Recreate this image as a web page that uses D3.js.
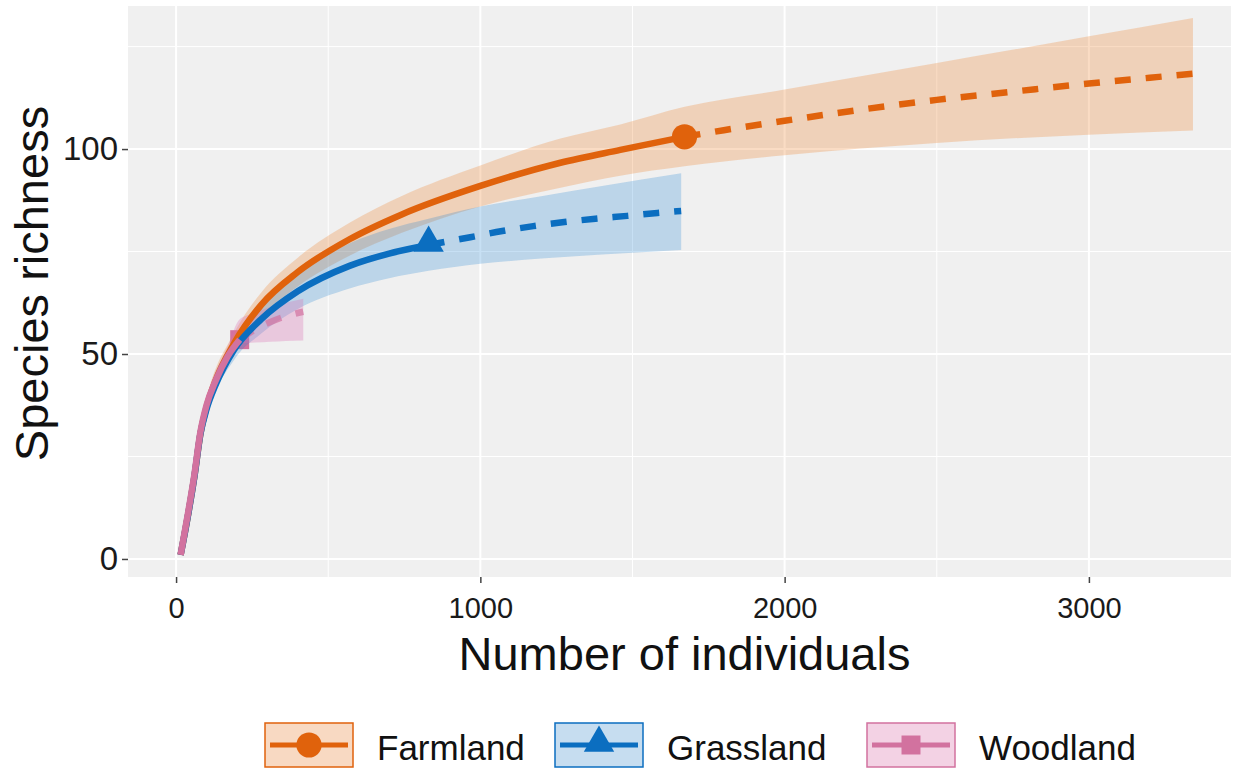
<!DOCTYPE html>
<html><head><meta charset="utf-8">
<script src="https://cdn.jsdelivr.net/npm/d3@7"></script>
<style>body{margin:0;background:#fff;} text{font-family:"Liberation Sans",Arial,sans-serif;}</style>
</head><body><svg id="c" width="1238" height="769"></svg>
<script>
const groups = ["Farmland", "Grassland", "Woodland"];
const colors = ["#E0620C", "#0B6EC0", "#D2729F"];
const bandFill = ["rgba(240,140,60,0.30)", "rgba(30,130,210,0.25)", "rgba(220,110,180,0.30)"];
const shapes = ["circle", "triangle", "square"];

// observed sample (size, richness)
const observedN = [1671, 830, 209];
const observedS = [103, 76.6, 53.5];

// rarefaction (interpolated) curves
const farmInterpN = [15, 40, 60, 80, 100, 130, 190, 280, 400, 570, 740, 1000, 1260, 1460, 1671];
const farmInterpS = [1, 11, 20, 30.5, 37, 43.5, 52.5, 62, 70, 78, 84, 91, 96.6, 99.8, 103];
const grassInterpN = [15, 40, 60, 80, 100, 130, 190, 280, 400, 570, 700, 830];
const grassInterpS = [1, 11, 20, 30.5, 36.5, 42.5, 51, 58.5, 65.3, 71.5, 74.5, 76.6];
const woodInterpN = [15, 40, 60, 80, 100, 130, 170, 209];
const woodInterpS = [1, 11.5, 20.5, 31, 37.5, 43.5, 49.5, 53.5];

// extrapolated curves
const farmExtrapN = [1671, 1800, 2000, 2250, 2500, 2750, 3000, 3200, 3342];
const farmExtrapS = [103, 104.6, 106.9, 109.6, 112, 114, 116, 117.4, 118.4];
const grassExtrapN = [830, 967, 1072, 1174, 1276, 1378, 1483, 1582, 1660];
const grassExtrapS = [76.6, 78.5, 80, 81.2, 82.2, 83, 83.7, 84.4, 84.9];
const woodExtrapN = [209, 260, 310, 360, 418];
const woodExtrapS = [53.5, 56, 57.8, 59.2, 60.3];

// confidence bands
const farmBandN = [15, 100, 190, 280, 400, 570, 740, 1000, 1260, 1460, 1671, 2000, 2500, 3000, 3342];
const farmBandLo = [1, 35, 50, 59, 66.5, 74, 79.5, 86, 90.5, 93.5, 95.8, 98.5, 101.5, 103.5, 104.5];
const farmBandHi = [1, 39, 55, 65, 73.5, 82, 88.5, 96, 102.5, 106, 110.3, 114.5, 121, 127.5, 132];
const grassBandN = [15, 100, 190, 280, 400, 570, 700, 830, 1000, 1200, 1400, 1660];
const grassBandLo = [1, 34.5, 48.5, 55, 61, 66, 68.5, 70.3, 72, 73.3, 74.3, 75.4];
const grassBandHi = [1, 38.5, 53.5, 62, 69.5, 77, 80.5, 83, 86, 88.5, 91, 94.1];
const woodBandN = [15, 100, 170, 209, 260, 310, 360, 418];
const woodBandLo = [1, 36, 47.5, 52.5, 52.8, 53, 53.2, 53.3];
const woodBandHi = [1, 39, 52, 58.5, 60, 61.5, 62.5, 63.5];

const xTicks = [0, 1000, 2000, 3000];
const xMinor = [500, 1500, 2500, 3500];
const yTicks = [0, 50, 100];
const yMinor = [25, 75, 125];
const xTitle = "Number of individuals";
const yTitle = "Species richness";

const P = {l: 128, r: 1231, t: 6, b: 577};
const svg = d3.select("#c");
const x = d3.scaleLinear().domain([-158, 3467]).range([P.l, P.r]);
const y = d3.scaleLinear().domain([-4.4, 134.9]).range([P.b, P.t]);

svg.append("rect").attr("x", P.l).attr("y", P.t).attr("width", P.r - P.l).attr("height", P.b - P.t).attr("fill", "#F0F0F0");
const grid = svg.append("g");
xMinor.filter(v => x(v) < P.r).forEach(v => grid.append("line").attr("x1", x(v)).attr("x2", x(v)).attr("y1", P.t).attr("y2", P.b).attr("stroke", "#fff").attr("stroke-width", 1));
yMinor.forEach(v => grid.append("line").attr("y1", y(v)).attr("y2", y(v)).attr("x1", P.l).attr("x2", P.r).attr("stroke", "#fff").attr("stroke-width", 1));
xTicks.forEach(v => grid.append("line").attr("x1", x(v)).attr("x2", x(v)).attr("y1", P.t).attr("y2", P.b).attr("stroke", "#fff").attr("stroke-width", 2));
yTicks.forEach(v => grid.append("line").attr("y1", y(v)).attr("y2", y(v)).attr("x1", P.l).attr("x2", P.r).attr("stroke", "#fff").attr("stroke-width", 2));

// axes
const xAxis = svg.append("g").attr("transform", `translate(0,${P.b})`)
  .call(d3.axisBottom(x).tickValues(xTicks).tickSize(6).tickPadding(14).tickFormat(d3.format("d")));
const yAxis = svg.append("g").attr("transform", `translate(${P.l},0)`)
  .call(d3.axisLeft(y).tickValues(yTicks).tickSize(6).tickPadding(4).tickFormat(d3.format("d")));
[xAxis, yAxis].forEach(a => {
  a.select(".domain").remove();
  a.selectAll(".tick line").attr("stroke", "#444").attr("stroke-width", 1.5);
  a.selectAll(".tick text").attr("fill", "#1a1a1a").attr("font-family", "Liberation Sans, Arial, sans-serif");
});
xAxis.selectAll(".tick text").attr("font-size", 29);
yAxis.selectAll(".tick text").attr("font-size", 33);

svg.append("text").attr("x", (P.l + P.r) / 2 + 5).attr("y", 670).attr("text-anchor", "middle")
  .attr("font-size", 47).attr("fill", "#111").text(xTitle);
svg.append("text").attr("transform", `translate(48,${(P.t + P.b) / 2 - 8}) rotate(-90)`).attr("text-anchor", "middle")
  .attr("font-size", 47).attr("fill", "#111").text(yTitle);

const zip2 = (a, b) => a.map((v, i) => [v, b[i]]);
const bands = [
  farmBandN.map((n, i) => ({n, lo: farmBandLo[i], hi: farmBandHi[i]})),
  grassBandN.map((n, i) => ({n, lo: grassBandLo[i], hi: grassBandHi[i]})),
  woodBandN.map((n, i) => ({n, lo: woodBandLo[i], hi: woodBandHi[i]}))
];
const interp = [zip2(farmInterpN, farmInterpS), zip2(grassInterpN, grassInterpS), zip2(woodInterpN, woodInterpS)];
const extrap = [zip2(farmExtrapN, farmExtrapS), zip2(grassExtrapN, grassExtrapS), zip2(woodExtrapN, woodExtrapS)];

const area = d3.area().x(d => x(d.n)).y0(d => y(d.lo)).y1(d => y(d.hi)).curve(d3.curveMonotoneX);
const line = d3.line().x(d => x(d[0])).y(d => y(d[1])).curve(d3.curveMonotoneX);

const plot = svg.append("g");
const symbolFor = (s, size) => d3.symbol().type(s === "circle" ? d3.symbolCircle : s === "triangle" ? d3.symbolTriangle : d3.symbolSquare).size(size)();
const symSize = {circle: 500, triangle: 400, square: 360};

function drawPoint(i) {
  const tx = x(observedN[i]), ty = y(observedS[i]) + (shapes[i] === "triangle" ? -2 : 0);
  plot.append("path").attr("d", symbolFor(shapes[i], symSize[shapes[i]]))
    .attr("transform", `translate(${tx},${ty})`).attr("fill", colors[i]);
}
// woodland point sits beneath the bands and the other lines
drawPoint(2);
bands.forEach((b, i) => plot.append("path").attr("d", area(b)).attr("fill", bandFill[i]));

[2, 0, 1].forEach(i => {
  plot.append("path").attr("d", line(extrap[i])).attr("fill", "none").attr("stroke", colors[i])
    .attr("stroke-width", 6.5).attr("stroke-dasharray", "16,15").attr("opacity", i === 2 ? 0.7 : 1);
});
[0, 1, 2].forEach(i => {
  plot.append("path").attr("d", line(interp[i])).attr("fill", "none").attr("stroke", colors[i])
    .attr("stroke-width", 6.5).attr("stroke-linejoin", "round");
});
drawPoint(0); drawPoint(1);

// legend
const legX = [265, 555, 867];
const legendFill = ["#F8D9C2", "#C6DDF0", "#F3D2E4"];
const lg = svg.append("g");
groups.forEach((g, i) => {
  const bx = legX[i], by = 723, bw = 88, bh = 44;
  lg.append("rect").attr("x", bx).attr("y", by).attr("width", bw).attr("height", bh)
    .attr("fill", legendFill[i]).attr("stroke", colors[i]).attr("stroke-width", 1.5);
  lg.append("line").attr("x1", bx + 5).attr("x2", bx + bw - 5).attr("y1", by + bh / 2).attr("y2", by + bh / 2)
    .attr("stroke", colors[i]).attr("stroke-width", 5);
  lg.append("path").attr("d", symbolFor(shapes[i], symSize[shapes[i]]))
    .attr("transform", `translate(${bx + bw / 2},${by + bh / 2 + (shapes[i] === "triangle" ? -2 : 0)})`).attr("fill", colors[i]);
  lg.append("text").attr("x", bx + bw + 24).attr("y", 760).attr("font-size", 35).attr("fill", "#111").text(g);
});
</script></body></html>
